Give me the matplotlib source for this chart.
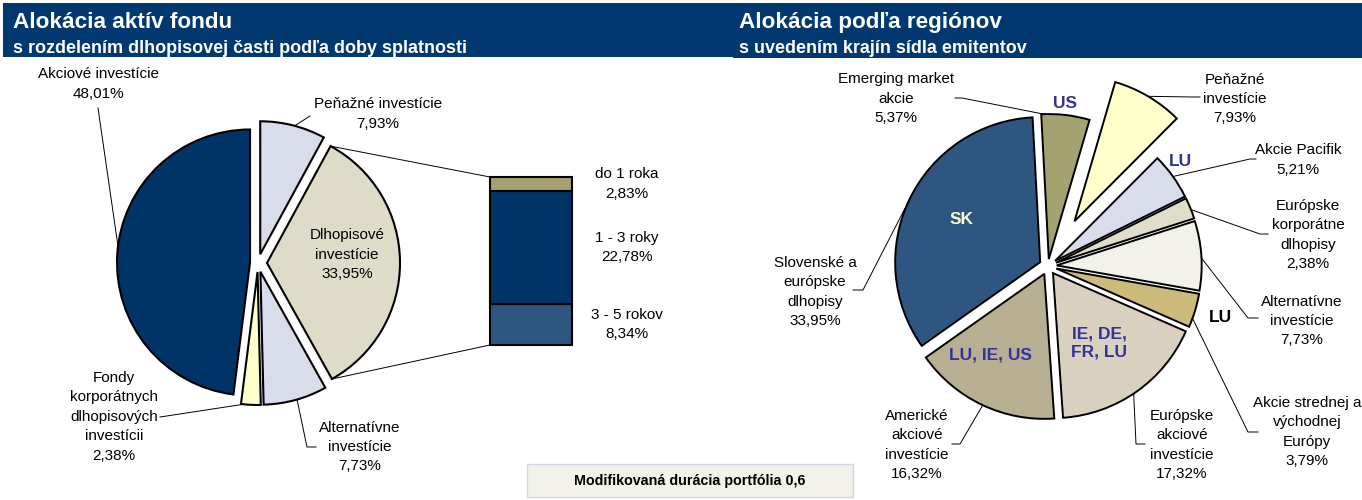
import numpy as np
import matplotlib
matplotlib.use("Agg")
import matplotlib.pyplot as plt
from matplotlib.patches import Rectangle, ConnectionPatch
from matplotlib import transforms

plt.rcParams['font.family'] = ['Liberation Sans', 'DejaVu Sans']

W, H = 1362, 500

# ---------------- data ----------------
left_names = ["Peňažné investície", "Dlhopisové\ninvestície", "Alternatívne\ninvestície",
              "Fondy\nkorporátnych\ndlhopisových\ninvestícii", "Akciové investície"]
left_values = [7.93, 33.95, 7.73, 2.38, 48.01]
left_colors = ["#D9DCEB", "#DEDCC8", "#D9DCEB", "#FFFFCC", "#003366"]

bar_names = ["3 - 5 rokov", "1 - 3 roky", "do 1 roka"]
bar_values = [8.34, 22.78, 2.83]
bar_colors = ["#2E5680", "#003366", "#A5A070"]

right_names = ["Emerging market\nakcie", "Peňažné\ninvestície", "Akcie Pacifik",
               "Európske\nkorporátne\ndlhopisy", "Alternatívne\ninvestície",
               "Akcie strednej a\nvýchodnej\nEurópy", "Európske\nakciové\ninvestície",
               "Americké\nakciové\ninvestície", "Slovenské a\neurópske\ndlhopisy"]
right_values = [5.37, 7.93, 5.21, 2.38, 7.73, 3.79, 17.32, 16.32, 33.95]
right_colors = ["#A5A272", "#FFFFCC", "#D9DCEA", "#E0DECB", "#F2F2EA",
                "#CDBB7C", "#D9D0C0", "#B8AF92", "#2E5680"]
right_countries = ["US", "", "LU", "", "LU", "", "IE, DE,\nFR, LU", "LU, IE, US", "SK"]

duration_text = "Modifikovaná durácia portfólia 0,6"


def pct(v):
    return f"{v:.2f}".replace(".", ",") + "%"


def Y(y):
    return H - y


def wpt(w, ang):
    cx, cy = w.center
    a = np.radians(ang)
    return (cx + w.r * np.cos(a), cy + w.r * np.sin(a))


fig = plt.figure(figsize=(W / 100, H / 100), dpi=100)
ax = fig.add_axes([0, 0, 1, 1])

FS = 11
LS = 1.5
navy_bar = "#01386F"

# ---------------- title bars ----------------
ax.add_patch(Rectangle((3, Y(57)), 730, 54, facecolor=navy_bar, edgecolor="none"))
ax.add_patch(Rectangle((733, Y(58)), W - 733, 55, facecolor=navy_bar, edgecolor="none"))
ax.text(13, Y(28), "Alokácia aktív fondu", color="white", fontsize=16.2, fontweight="bold", va="baseline")
ax.text(13, Y(53), "s rozdelením dlhopisovej časti podľa doby splatnosti", color="white",
        fontsize=13, fontweight="bold", va="baseline")
ax.text(739, Y(28), "Alokácia podľa regiónov", color="white", fontsize=16.2, fontweight="bold", va="baseline")
ax.text(739, Y(53), "s uvedením krajín sídla emitentov", color="white",
        fontsize=12.9, fontweight="bold", va="baseline")

# ---------------- left pie ----------------
lw = dict(edgecolor="black", linewidth=1.5)
lwedges, _ = ax.pie(left_values, colors=left_colors, startangle=90, counterclock=False,
                    explode=[9, 9, 9, 9, 8], center=(258, Y(263)), radius=133, wedgeprops=lw)

lead = dict(color="black", lw=0.7)
# Peňažné
p = wpt(lwedges[0], 75)
ax.plot([p[0], 310], [p[1], Y(116)], **lead)
ax.text(378, Y(114), left_names[0] + "\n" + pct(left_values[0]), ha="center", va="center",
        fontsize=FS, linespacing=LS)
# Dlhopisové (inside)
ax.text(347, Y(255), left_names[1] + "\n" + pct(left_values[1]), ha="center", va="center",
        fontsize=FS, linespacing=LS)
# Alternatívne
p = wpt(lwedges[2], -74)
ax.plot([p[0], 307, 316], [p[1], Y(447), Y(447)], **lead)
ax.text(360, Y(447), left_names[2] + "\n" + pct(left_values[2]), ha="center", va="center",
        fontsize=FS, linespacing=LS)
# Fondy
p = wpt(lwedges[3], -96)
ax.plot([p[0], 160], [p[1], Y(417)], **lead)
ax.text(114, Y(417), left_names[3] + "\n" + pct(left_values[3]), ha="center", va="center",
        fontsize=FS, linespacing=LS)
# Akciové
p = wpt(lwedges[4], 173)
ax.plot([p[0], 98], [p[1], Y(108)], **lead)
ax.text(98, Y(84), left_names[4] + "\n" + pct(left_values[4]), ha="center", va="center",
        fontsize=FS, linespacing=LS)

# ---------------- bar of pie ----------------
ax_bar = fig.add_axes([490 / W, Y(345) / H, 82 / W, 168 / H])
total = sum(bar_values)
bottoms = np.concatenate([[0], np.cumsum(bar_values)[:-1]])
ax_bar.bar([0] * 3, bar_values, bottom=bottoms, width=1.0, color=bar_colors,
           edgecolor="black", linewidth=1.5, clip_on=False)
ax_bar.set_xlim(-0.5, 0.5)
ax_bar.set_ylim(0, total)
ax_bar.axis("off")

dl = lwedges[1]
top_pt = wpt(dl, dl.theta2)
bot_pt = wpt(dl, dl.theta1)
for pA, yB in [(top_pt, total), (bot_pt, 0)]:
    con = ConnectionPatch(xyA=pA, coordsA=ax.transData, xyB=(-0.5, yB), coordsB=ax_bar.transData,
                          color="black", lw=0.7)
    fig.add_artist(con)

btrans = transforms.blended_transform_factory(ax.transData, ax_bar.transData)
for name, v, b in zip(bar_names, bar_values, bottoms):
    ax.text(627, b + v / 2, name + "\n" + pct(v), transform=btrans, ha="center", va="center",
            fontsize=FS, linespacing=LS)

# duration box
ax.add_patch(Rectangle((527, Y(497)), 326, 33, facecolor="#F2F1EA", edgecolor="#D3D7E2", linewidth=1))
ax.text(690, Y(481), duration_text, ha="center", va="center", fontsize=10.3, fontweight="bold")

# ---------------- right pie ----------------
rexp = [7, 52, 8.7, 8.7, 8.7, 8.7, 8.7, 8.7, 8.7]
rwedges, _ = ax.pie(right_values, colors=right_colors, startangle=93, counterclock=False,
                    explode=rexp, center=(1048, Y(266)), radius=145,
                    wedgeprops=dict(edgecolor="black", linewidth=1.4))

anchors = [92, 59.5, 35.6, 21.5, 2.9, -20.1, -56.2, -115.1, 155.4]
elbows = [[(962, 98), (955, 98)],
          [(1193, 97), (1200, 97)],
          [(1250, 159), (1256, 159)],
          [(1260, 234), (1268, 234)],
          [(1248, 318), (1258, 318)],
          [(1248, 432), (1258, 432)],
          [(1136, 444), (1145, 444)],
          [(960, 444), (952, 444)],
          [(863, 290), (853, 290)]]
label_pos = [(896, 99), (1235, 99), (1298, 160), (1308, 235), (1302, 321),
             (1307, 432), (1182, 445), (917, 445), (815, 292)]
for w, a, el, name, v, (lx, ly) in zip(rwedges, anchors, elbows, right_names, right_values, label_pos):
    p = wpt(w, a)
    xs = [p[0]] + [e[0] for e in el]
    ys = [p[1]] + [Y(e[1]) for e in el]
    ax.plot(xs, ys, **lead)
    ax.text(lx, Y(ly), name + "\n" + pct(v), ha="center", va="center", fontsize=FS, linespacing=LS)

blue = "#333399"
country_style = [(1065, 103, blue), None, (1180, 162, blue), None, (1220, 317, "black"), None,
                 (1099, 343, blue), (990, 355, blue), (962, 219, "#FFFFCC")]
for c, st in zip(right_countries, country_style):
    if st is None or not c:
        continue
    ax.text(st[0], Y(st[1]), c, color=st[2], ha="center", va="center", fontsize=12.5,
            fontweight="bold", linespacing=1.25)

ax.set_xlim(0, W)
ax.set_ylim(0, H)
ax.set_aspect("equal")
ax.axis("off")

fig.savefig("out.png", dpi=100)
